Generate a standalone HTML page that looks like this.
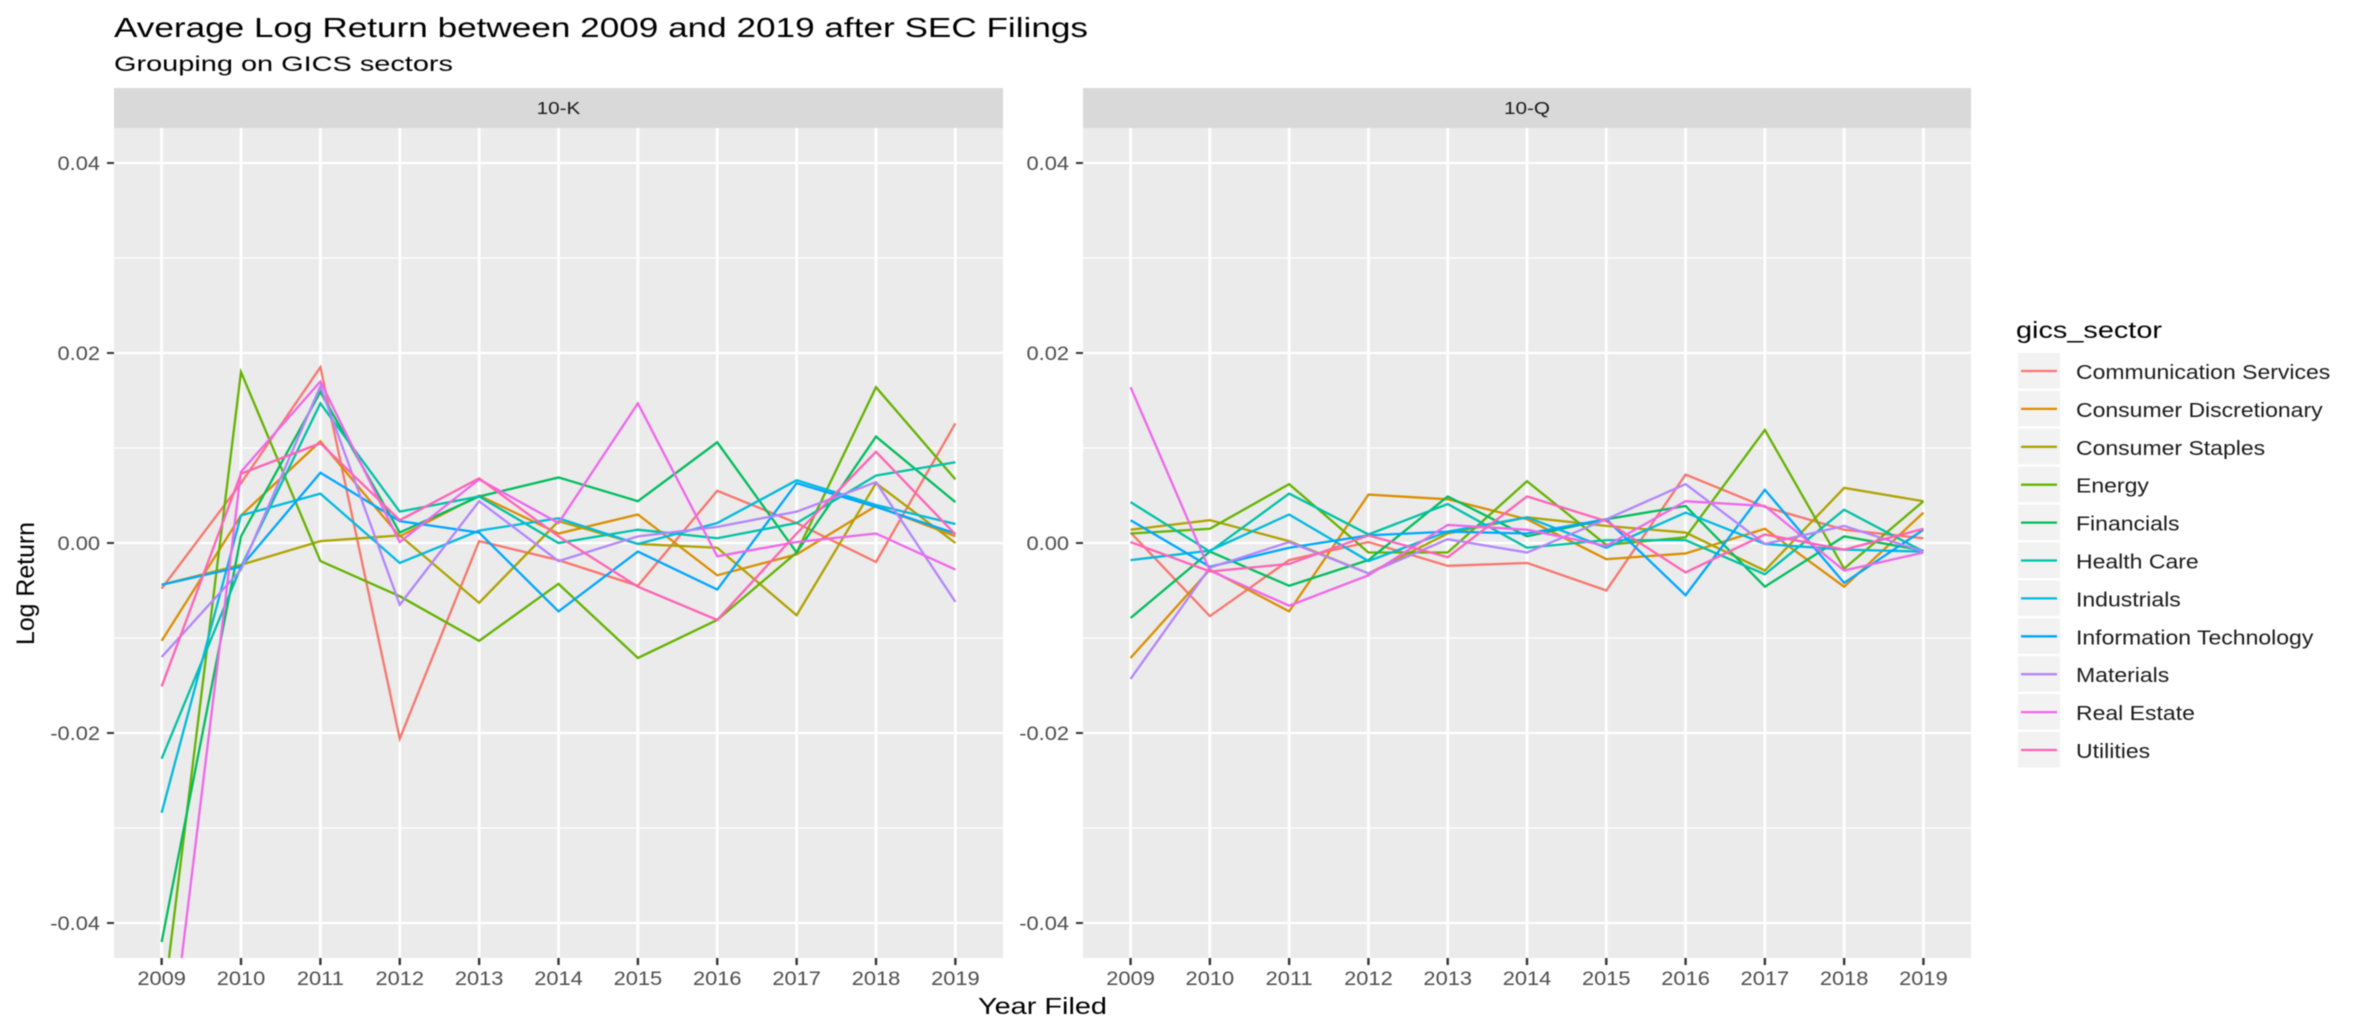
<!DOCTYPE html>
<html lang="en">
<head>
<meta charset="utf-8">
<title>Average Log Return between 2009 and 2019 after SEC Filings</title>
<style>
  html, body { margin: 0; padding: 0; background: #fff; }
  html { width: 2354px; height: 1036px; overflow: hidden; }
  body { width: 2354px; height: 1036px; overflow: hidden; }
  svg { display: block; filter: blur(0.5px); font-family: "Liberation Sans", sans-serif; }
</style>
</head>
<body>
<svg id="chart" xmlns="http://www.w3.org/2000/svg" width="2354" height="1036" viewBox="0 0 2354 1036">
  <text x="114" y="37" font-size="28" fill="#000" textLength="974" lengthAdjust="spacingAndGlyphs">Average Log Return between 2009 and 2019 after SEC Filings</text>
  <text x="114" y="71" font-size="21" fill="#000" textLength="339" lengthAdjust="spacingAndGlyphs">Grouping on GICS sectors</text>
  <text x="978" y="1014" font-size="23" fill="#000" textLength="129" lengthAdjust="spacingAndGlyphs">Year Filed</text>
  <text transform="translate(34,645) rotate(-90)" font-size="25" fill="#000" textLength="123" lengthAdjust="spacingAndGlyphs">Log Return</text>
  <g id="panels"></g>
  <g id="legend">
    <text x="2016" y="338" font-size="23" fill="#000" textLength="146" lengthAdjust="spacingAndGlyphs">gics_sector</text>
  </g>
</svg>
<script>
// ---- categories and tick labels ----
const years = [2009, 2010, 2011, 2012, 2013, 2014, 2015, 2016, 2017, 2018, 2019];
const majorTicks = [0.04, 0.02, 0, -0.02, -0.04];
const majorTickLabels = ["0.04", "0.02", "0.00", "-0.02", "-0.04"];
const minorTicks = [0.03, 0.01, -0.01, -0.03];
const sectorNames = ["Communication Services", "Consumer Discretionary", "Consumer Staples", "Energy", "Financials", "Health Care", "Industrials", "Information Technology", "Materials", "Real Estate", "Utilities"];
const sectorColors = ["#F8766D", "#DB8E00", "#AEA200", "#64B200", "#00BD5C", "#00C1A7", "#00BADE", "#00A6FF", "#B385FF", "#EF67EB", "#FF63B6"];
const facetNames = ["10-K", "10-Q"];

// ---- 10-K series ----
const communication10K = [-0.0048, 0.0063, 0.0185, -0.0206, 0.0002, -0.0018, -0.0045, 0.0055, 0.0021, -0.0020, 0.0126];
const discretionary10K = [-0.0103, 0.0029, 0.0107, 0.0007, 0.0050, 0.0010, 0.0030, -0.0034, -0.0012, 0.0039, 0.0007];
const staples10K = [-0.0044, -0.0023, 0.0002, 0.0008, -0.0063, 0.0023, -0.0001, -0.0005, -0.0076, 0.0063, 0.0000];
const energy10K = [-0.0500, 0.0180, -0.0019, -0.0056, -0.0103, -0.0043, -0.0121, -0.0081, -0.0010, 0.0164, 0.0067];
const financials10K = [-0.0420, 0.0007, 0.0159, 0.0011, 0.0049, 0.0069, 0.0044, 0.0106, -0.0010, 0.0112, 0.0043];
const healthCare10K = [-0.0227, -0.0025, 0.0147, 0.0033, 0.0049, 0.0000, 0.0014, 0.0005, 0.0021, 0.0071, 0.0085];
const industrials10K = [-0.0284, 0.0029, 0.0052, -0.0021, 0.0013, 0.0026, -0.0001, 0.0021, 0.0066, 0.0040, 0.0020];
const infoTech10K = [-0.0044, -0.0025, 0.0074, 0.0023, 0.0011, -0.0072, -0.0009, -0.0049, 0.0063, 0.0038, 0.0010];
const materials10K = [-0.0120, -0.0028, 0.0165, -0.0065, 0.0044, -0.0019, 0.0007, 0.0017, 0.0033, 0.0064, -0.0062];
const realEstate10K = [-0.0610, 0.0075, 0.0170, 0.0001, 0.0067, 0.0021, 0.0147, -0.0014, 0.0001, 0.0010, -0.0028];
const utilities10K = [-0.0151, 0.0073, 0.0105, 0.0024, 0.0068, 0.0007, -0.0046, -0.0081, 0.0010, 0.0096, 0.0009];

// ---- 10-Q series ----
const communication10Q = [0.0011, -0.0077, -0.0018, 0.0001, -0.0024, -0.0021, -0.0050, 0.0072, 0.0038, 0.0014, 0.0005];
const discretionary10Q = [-0.0121, -0.0028, -0.0072, 0.0051, 0.0046, 0.0025, -0.0017, -0.0011, 0.0015, -0.0046, 0.0032];
const staples10Q = [0.0014, 0.0024, 0.0002, -0.0032, 0.0010, 0.0027, 0.0018, 0.0011, -0.0029, 0.0058, 0.0044];
const energy10Q = [0.0010, 0.0015, 0.0062, -0.0010, -0.0010, 0.0065, -0.0002, 0.0006, 0.0119, -0.0027, 0.0044];
const financials10Q = [-0.0079, -0.0009, -0.0045, -0.0018, 0.0049, 0.0007, 0.0025, 0.0039, -0.0046, 0.0007, -0.0008];
const healthCare10Q = [0.0043, -0.0009, 0.0052, 0.0009, 0.0041, -0.0005, 0.0003, 0.0003, -0.0033, 0.0035, -0.0009];
const industrials10Q = [-0.0018, -0.0008, 0.0030, -0.0019, 0.0012, 0.0027, -0.0005, 0.0032, -0.0001, -0.0007, -0.0009];
const infoTech10Q = [0.0024, -0.0025, -0.0005, 0.0008, 0.0012, 0.0010, 0.0025, -0.0055, 0.0056, -0.0042, 0.0014];
const materials10Q = [-0.0143, -0.0026, 0.0001, -0.0032, 0.0004, -0.0010, 0.0025, 0.0062, -0.0001, 0.0018, -0.0009];
const realEstate10Q = [0.0164, -0.0029, -0.0066, -0.0034, 0.0019, 0.0014, -0.0003, 0.0044, 0.0039, -0.0029, -0.0010];
const utilities10Q = [0.0001, -0.0030, -0.0022, 0.0008, -0.0015, 0.0049, 0.0023, -0.0031, 0.0009, -0.0007, 0.0015];

const seriesByFacet = [
  [communication10K, discretionary10K, staples10K, energy10K, financials10K, healthCare10K, industrials10K, infoTech10K, materials10K, realEstate10K, utilities10K],
  [communication10Q, discretionary10Q, staples10Q, energy10Q, financials10Q, healthCare10Q, industrials10Q, infoTech10Q, materials10Q, realEstate10Q, utilities10Q]
];

// ---- layout ----
const SVG_NS = "http://www.w3.org/2000/svg";
const panelTop = 128, panelBottom = 958, stripTop = 88;
const panelLefts = [114, 1083], panelRights = [1003, 1971];
const textStretch = 1.15;

function yScale(v) {
  return 543 - v * 9500;
}
function xScale(facet, year) {
  const left = panelLefts[facet], right = panelRights[facet];
  const step = (right - left) / (years.length - 1 + 1.2);
  return left + step * (0.6 + years.indexOf(year));
}
function make(tag, attrs, parent) {
  const el = document.createElementNS(SVG_NS, tag);
  for (const k in attrs) el.setAttribute(k, attrs[k]);
  parent.appendChild(el);
  return el;
}
function stretchedText(parent, x, y, str, size, fill, anchor) {
  const el = make("text", {
    transform: "translate(" + x + "," + y + ") scale(" + textStretch + ",1)",
    "font-size": size, fill: fill, "text-anchor": anchor
  }, parent);
  el.textContent = str;
  return el;
}
// Builds a path from pixel points, cutting segments at the panel's top and bottom
function clippedPath(points) {
  let d = "";
  let pen = false;
  for (let i = 0; i < points.length - 1; i++) {
    const a = points[i], b = points[i + 1];
    let t0 = 0, t1 = 1;
    const dy = b[1] - a[1];
    if (dy !== 0) {
      const tTop = (panelTop - a[1]) / dy, tBot = (panelBottom - a[1]) / dy;
      t0 = Math.max(t0, Math.min(tTop, tBot));
      t1 = Math.min(t1, Math.max(tTop, tBot));
    } else if (a[1] < panelTop || a[1] > panelBottom) {
      pen = false;
      continue;
    }
    if (t0 >= t1) {
      pen = false;
      continue;
    }
    const sx = a[0] + (b[0] - a[0]) * t0, sy = a[1] + dy * t0;
    const ex = a[0] + (b[0] - a[0]) * t1, ey = a[1] + dy * t1;
    if (!pen || t0 > 0) d += "M" + sx.toFixed(2) + " " + sy.toFixed(2);
    d += "L" + ex.toFixed(2) + " " + ey.toFixed(2);
    pen = t1 === 1;
  }
  return d;
}

const panelsRoot = document.getElementById("panels");
facetNames.forEach(function (facetName, f) {
  const left = panelLefts[f], right = panelRights[f], w = right - left;
  const g = make("g", {}, panelsRoot);
  
  

  const strip = make("rect", { x: left, y: stripTop, width: w, height: panelTop - stripTop, fill: "#D9D9D9" }, g);
  
  

  const stripLabel = stretchedText(g, left + w / 2, 114, facetName, 18, "#1A1A1A", "middle");
  
  

  const bg = make("rect", { x: left, y: panelTop, width: w, height: panelBottom - panelTop, fill: "#EBEBEB" }, g);
  
  

  minorTicks.forEach(function (t) {
    const line = make("line", { x1: left, x2: right, y1: yScale(t), y2: yScale(t), stroke: "#fff", "stroke-width": 1.2 }, g);
    
    
  });
  majorTicks.forEach(function (t, i) {
    const y = yScale(t);
    const line = make("line", { x1: left, x2: right, y1: y, y2: y, stroke: "#fff", "stroke-width": 2.2 }, g);
    
    
    const tick = make("line", { x1: left - 7, x2: left, y1: y, y2: y, stroke: "#333", "stroke-width": 2 }, g);
    
    
    const label = stretchedText(g, left - 14, y + 7, majorTickLabels[i], 19, "#4D4D4D", "end");
    
    
  });
  years.forEach(function (yr) {
    const x = xScale(f, yr);
    const line = make("line", { x1: x, x2: x, y1: panelTop, y2: panelBottom, stroke: "#fff", "stroke-width": 2.8 }, g);
    
    
    const tick = make("line", { x1: x, x2: x, y1: panelBottom, y2: panelBottom + 7, stroke: "#333", "stroke-width": 2.4 }, g);
    
    
    const label = stretchedText(g, x, 985, String(yr), 19, "#4D4D4D", "middle");
    
    
  });

  const lines = make("g", {}, g);
  
  
  seriesByFacet[f].forEach(function (values, s) {
    const pts = values.map(function (v, i) {
      return [xScale(f, years[i]), yScale(v)];
    });
    const line = make("path", { d: clippedPath(pts), fill: "none", stroke: sectorColors[s], "stroke-width": 2.3, "stroke-linejoin": "miter" }, lines);
    
    
  });
});

const legendRoot = document.getElementById("legend");
sectorNames.forEach(function (name, i) {
  const cy = 371 + i * 37.9;
  const row = make("g", {}, legendRoot);
  
  
  const key = make("rect", { x: 2018, y: cy - 18, width: 42, height: 35.5, fill: "#F2F2F2" }, row);
  
  
  const swatch = make("line", { x1: 2021, x2: 2057, y1: cy, y2: cy, stroke: sectorColors[i], "stroke-width": 2.3 }, row);
  
  
  const label = stretchedText(row, 2076, cy + 8, name, 20, "#1A1A1A", "start");
  
  
});
</script>
</body>
</html>
